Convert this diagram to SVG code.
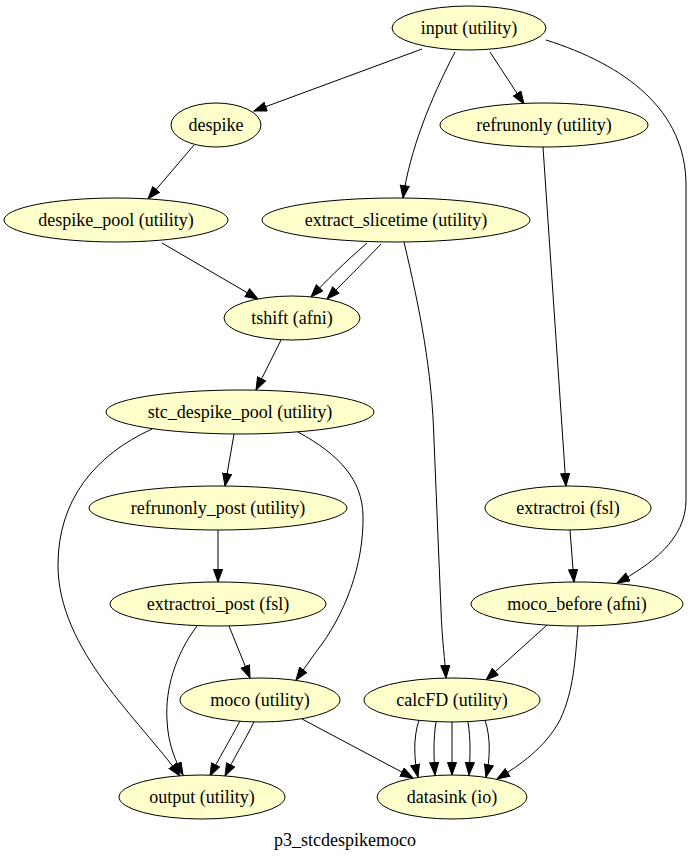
<svg xmlns="http://www.w3.org/2000/svg" width="693" height="857" viewBox="0 0 693 857">
<style>
.n ellipse{fill:#ffffcc;stroke:#000;stroke-width:1}
#edges path{fill:none;stroke:#000;stroke-width:1;marker-end:url(#ah)}
</style>
<defs>
<marker id="ah" markerUnits="userSpaceOnUse" markerWidth="14" markerHeight="12" refX="13" refY="5" orient="auto"><path d="M0.5,0.5 L13,5 L0.5,9.5 z" fill="#000" stroke="#000" stroke-width="1"/></marker>
</defs>
<rect width="693" height="857" fill="#fff"/>
<g id="edges">
<path d="M422,49 L254,111"/>
<path d="M455,52 C430,100 410,150 403,198"/>
<path d="M490,52 L524,104"/>
<path d="M546,40 C625,65 686,110 686,185 L686,500 C686,540 650,565 617,583"/>
<path d="M194,145 L148,199"/>
<path d="M162,243 L258,299"/>
<path d="M367,243 C345,262 325,282 311,297"/>
<path d="M381,244 C362,264 342,284 327,299"/>
<path d="M404,242 C420,310 432,370 434,440 L441,610 C442,640 445,660 446,678"/>
<path d="M543,147 L566,486"/>
<path d="M281,340 L256,390"/>
<path d="M234,434 L225,486"/>
<path d="M152,429 C95,455 58,500 58,565 C58,650 140,720 180,776"/>
<path d="M298,432 C340,455 362,480 363,515 C364,565 345,615 316,652 L296,680"/>
<path d="M218,530 L218,582"/>
<path d="M570,530 L574,582"/>
<path d="M229,626 L250,678"/>
<path d="M197,626 C175,655 165,690 167,720 C168,745 176,762 183,775"/>
<path d="M240,721 C230,740 218,760 210,776"/>
<path d="M254,722 C245,740 233,760 225,776"/>
<path d="M302,719 L413,778"/>
<path d="M547,625 L486,680"/>
<path d="M578,626 C575,660 574,690 560,720 C545,748 520,765 497,779"/>
<path d="M419,720 C413,738 414,760 418,777"/>
<path d="M436,722 C433,740 434,760 435,775"/>
<path d="M452,722 L452,775"/>
<path d="M468,722 C471,740 470,760 469,775"/>
<path d="M485,720 C491,738 490,760 486,777"/>
</g>
<g font-family="Liberation Serif, Times New Roman, serif" font-size="18" text-anchor="middle" fill="#000">
<g id="input" class="n"><ellipse cx="469" cy="28" rx="77" ry="22"/><text x="469" y="34">input (utility)</text></g>
<g id="despike" class="n"><ellipse cx="216" cy="125" rx="45" ry="22"/><text x="216" y="131">despike</text></g>
<g id="refrunonly" class="n"><ellipse cx="544" cy="125" rx="104" ry="22"/><text x="544" y="131">refrunonly (utility)</text></g>
<g id="despike_pool" class="n"><ellipse cx="116" cy="220" rx="112" ry="22"/><text x="116" y="226">despike_pool (utility)</text></g>
<g id="extract_slicetime" class="n"><ellipse cx="396" cy="220" rx="134" ry="22"/><text x="396" y="226">extract_slicetime (utility)</text></g>
<g id="tshift" class="n"><ellipse cx="292" cy="318" rx="68" ry="22"/><text x="292" y="324">tshift (afni)</text></g>
<g id="stc_despike_pool" class="n"><ellipse cx="240" cy="412" rx="134" ry="22"/><text x="240" y="418">stc_despike_pool (utility)</text></g>
<g id="refrunonly_post" class="n"><ellipse cx="218" cy="508" rx="129" ry="22"/><text x="218" y="514">refrunonly_post (utility)</text></g>
<g id="extractroi" class="n"><ellipse cx="568" cy="508" rx="83" ry="22"/><text x="568" y="514">extractroi (fsl)</text></g>
<g id="extractroi_post" class="n"><ellipse cx="218" cy="604" rx="108" ry="22"/><text x="218" y="610">extractroi_post (fsl)</text></g>
<g id="moco_before" class="n"><ellipse cx="577" cy="604" rx="106" ry="22"/><text x="577" y="610">moco_before (afni)</text></g>
<g id="moco" class="n"><ellipse cx="260" cy="700" rx="80" ry="22"/><text x="260" y="706">moco (utility)</text></g>
<g id="calcFD" class="n"><ellipse cx="452" cy="700" rx="88" ry="22"/><text x="452" y="706">calcFD (utility)</text></g>
<g id="output" class="n"><ellipse cx="202" cy="797" rx="83" ry="22"/><text x="202" y="803">output (utility)</text></g>
<g id="datasink" class="n"><ellipse cx="452" cy="797" rx="75" ry="22"/><text x="452" y="803">datasink (io)</text></g>
<text x="345" y="846">p3_stcdespikemoco</text>
</g>
</svg>
